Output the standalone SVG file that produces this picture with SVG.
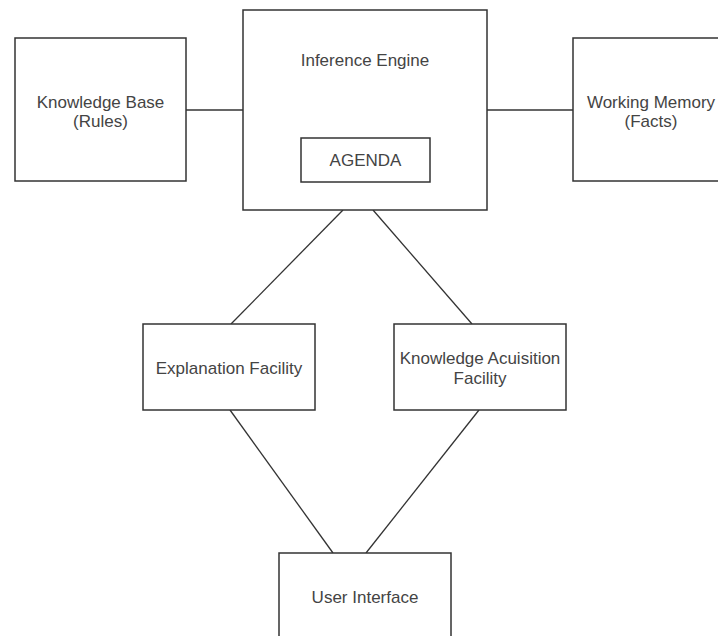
<svg xmlns="http://www.w3.org/2000/svg" width="718" height="636" viewBox="0 0 718 636">
  <style>
    .box { fill: #ffffff; stroke: #333333; stroke-width: 1.5; }
    .edge { fill: none; stroke: #333333; stroke-width: 1.3; }
    .lbl { font-family: "Liberation Sans", Arial, sans-serif; font-size: 17px; fill: #444444; text-anchor: middle; }
  </style>
  <rect width="718" height="636" fill="#ffffff"/>
  <g id="connectors">
    <line class="edge" x1="186" y1="110" x2="243" y2="110"/>
    <line class="edge" x1="487" y1="110" x2="573" y2="110"/>
    <line class="edge" x1="343" y1="210" x2="231" y2="324"/>
    <line class="edge" x1="373" y1="210" x2="472" y2="324"/>
    <line class="edge" x1="230" y1="410" x2="333" y2="553"/>
    <line class="edge" x1="479" y1="410" x2="366" y2="553"/>
  </g>
  <g id="knowledge-base">
    <rect class="box" x="15" y="38" width="171" height="143"/>
    <text class="lbl" x="100.5" y="108">Knowledge Base</text>
    <text class="lbl" x="100.5" y="127">(Rules)</text>
  </g>
  <g id="inference-engine">
    <rect class="box" x="243" y="10" width="244" height="200"/>
    <text class="lbl" x="365" y="66">Inference Engine</text>
  </g>
  <g id="agenda">
    <rect class="box" x="301" y="138" width="129" height="44"/>
    <text class="lbl" x="365.5" y="166">AGENDA</text>
  </g>
  <g id="working-memory">
    <rect class="box" x="573" y="38" width="156" height="143"/>
    <text class="lbl" x="651" y="108">Working Memory</text>
    <text class="lbl" x="651" y="127">(Facts)</text>
  </g>
  <g id="explanation-facility">
    <rect class="box" x="143" y="324" width="172" height="86"/>
    <text class="lbl" x="229" y="374">Explanation Facility</text>
  </g>
  <g id="knowledge-acquisition-facility">
    <rect class="box" x="394" y="324" width="172" height="86"/>
    <text class="lbl" x="480" y="364">Knowledge Acuisition</text>
    <text class="lbl" x="480" y="384">Facility</text>
  </g>
  <g id="user-interface">
    <rect class="box" x="279" y="553" width="172" height="100"/>
    <text class="lbl" x="365" y="603">User Interface</text>
  </g>
</svg>
